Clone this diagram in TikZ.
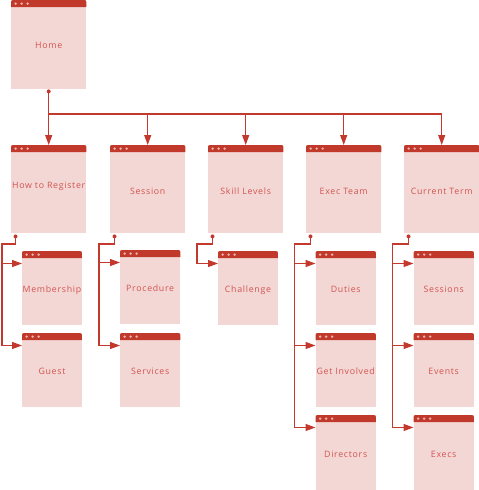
\documentclass[tikz,border=0pt]{standalone}
\usepackage{fontspec}
\setmainfont{Open Sans}[LetterSpace=8]
\usetikzlibrary{arrows.meta,calc}
\definecolor{hdr}{HTML}{C0392B}
\definecolor{body}{HTML}{F3D7D5}
\definecolor{txt}{HTML}{D25450}
\definecolor{hdot}{HTML}{EDB0AB}
\definecolor{ln}{HTML}{C4392E}
\tikzset{
  win/.style={fill=body, text=txt, inner sep=0pt, anchor=north west, font=\fontsize{8.8}{10}\selectfont},
  conn/.style={draw=ln, line width=1.1pt},
  arr/.style={conn, -{Triangle[length=10pt,width=7pt]}},
}
\newcommand\lbl[2]{\raisebox{#1}[0pt][0pt]{#2}}
\newcommand\winbox[6]{%
  \node[win, minimum width=#4pt, minimum height=#5pt] (#1) at (#2,#3) {#6};
  \fill[hdr] ([yshift=-7pt]#1.north west) [rounded corners=2pt] -- (#1.north west) -- (#1.north east) [sharp corners] -- ([yshift=-7pt]#1.north east) -- cycle;
  \foreach \dx in {4.7,10.7,16.7} \fill[hdot] ([xshift=\dx pt,yshift=-3.6pt]#1.north west) circle (1.35pt);
}
\begin{document}
\begin{tikzpicture}[x=1pt,y=-1pt]
\useasboundingbox (0,0) rectangle (479,490);
\winbox{home}{11}{0}{75}{89}{\lbl{-3.8pt}{Home}}
\winbox{reg}{11}{145}{75}{88}{\lbl{0.6pt}{How to Register}}
\winbox{sess}{110}{145}{75}{88}{\lbl{-5.2pt}{Session}}
\winbox{skill}{208}{145}{75}{88}{\lbl{-5.2pt}{Skill Levels}}
\winbox{exec}{306}{145}{75}{88}{\lbl{-5.2pt}{Exec Team}}
\winbox{cur}{404}{145}{75}{88}{\lbl{-5.2pt}{Current Term}}
\winbox{memb}{22}{251}{59.5}{74}{\lbl{-4.5pt}{Membership}}
\winbox{guest}{22}{333}{59.5}{74}{\lbl{-4.5pt}{Guest}}
\winbox{proc}{120}{250}{60}{74}{\lbl{-4.5pt}{Procedure}}
\winbox{serv}{120}{333}{60}{74}{\lbl{-4.5pt}{Services}}
\winbox{chal}{218}{251}{59.5}{74}{\lbl{-4.5pt}{Challenge}}
\winbox{duty}{315.5}{251}{60}{74}{\lbl{-4.5pt}{Duties}}
\winbox{inv}{315.5}{333}{60}{74}{\lbl{-4.5pt}{Get Involved}}
\winbox{dir}{315.5}{415}{60}{75}{\lbl{-4.5pt}{Directors}}
\winbox{sns}{413.5}{251}{60}{74}{\lbl{-4.5pt}{Sessions}}
\winbox{evt}{413.5}{333}{60}{74}{\lbl{-4.5pt}{Events}}
\winbox{exs}{413.5}{415}{60}{75}{\lbl{-4.5pt}{Execs}}
% home connectors
\coordinate (hd) at ($(home.south)+(0,2)$);
\coordinate (bus) at (49,114);
\draw[arr] (hd) -- (reg.north);
\foreach \n in {sess,skill,exec,cur} \draw[arr] (hd) |- (bus) -| (\n.north);
\fill[ln] (hd) circle (2pt);
% child connectors
\foreach \p/\bx/\kids in {reg/2/{memb,guest}, sess/99/{proc,serv}, skill/197/{chal}, exec/294.5/{duty,inv,dir}, cur/392.5/{sns,evt,exs}}{
  \coordinate (\p d) at ($(\p.south west)+(4.5,3)$);
  \coordinate (\p b) at (\bx,244);
  \foreach \k in \kids {
    \draw[arr] (\p d) |- (\p b) |- ($(\k.north west)+(0,12.5)$);
  }
  \fill[ln] (\p d) circle (2pt);
}
\end{tikzpicture}
\end{document}
